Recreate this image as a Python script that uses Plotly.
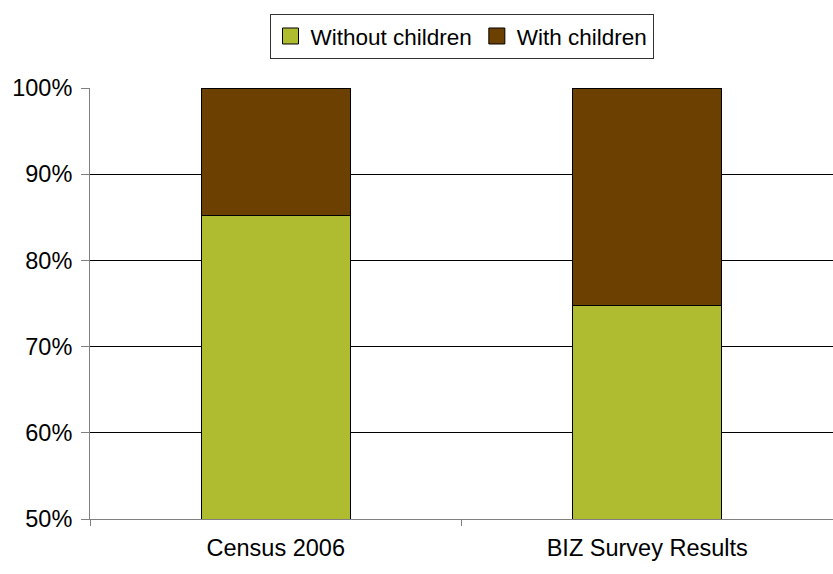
import plotly.graph_objects as go

categories = ["Census 2006", "BIZ Survey Results"]
without_children = [85.2, 74.8]
with_children = [14.8, 25.2]
y_ticks = [50, 60, 70, 80, 90, 100]
y_tick_labels = [f"{v}%" for v in y_ticks]

green = "#AFBC2F"
brown = "#6B4000"
series = [("Without children", without_children, green),
          ("With children", with_children, brown)]

font = dict(family="Liberation Sans, Arial, sans-serif", size=23.5, color="#000000")
legend_font = dict(family="Liberation Sans, Arial, sans-serif", size=22.5, color="#000000")

fig = go.Figure()
for name, values, color in series:
    fig.add_trace(go.Bar(
        x=categories, y=values, name=name, legendgroup=name, showlegend=False,
        marker=dict(color=color, line=dict(color="#000000", width=1)),
        width=0.4,
    ))
# square legend keys
for name, values, color in series:
    fig.add_trace(go.Scatter(
        x=[None], y=[None], mode="markers", name=name, legendgroup=name,
        marker=dict(symbol="square", size=16, color=color,
                    line=dict(color="#000000", width=1)),
    ))

fig.update_layout(
    barmode="stack",
    width=833, height=574,
    margin=dict(l=90, r=0, t=88, b=55),
    paper_bgcolor="white", plot_bgcolor="white",
    font=font,
    showlegend=True,
    legend=dict(
        orientation="h", x=0.5, xanchor="center", y=1.172, yanchor="top",
        bordercolor="#333333", borderwidth=1, bgcolor="white",
        font=legend_font, itemwidth=30, traceorder="normal",
        tracegroupgap=0, itemsizing="trace",
    ),
    xaxis=dict(
        type="category", tickson="boundaries", ticks="outside", ticklen=6,
        tickcolor="#808080", showline=True, linecolor="#808080", linewidth=1,
        showgrid=False, tickfont=font, ticklabelstandoff=8,
    ),
    yaxis=dict(
        range=[50, 100], tickvals=y_ticks, ticktext=y_tick_labels,
        ticks="outside", ticklen=8, tickcolor="#808080",
        showline=True, linecolor="#808080", linewidth=1,
        showgrid=True, gridcolor="#000000", gridwidth=1,
        tickfont=font, zeroline=False, ticklabelstandoff=4,
    ),
)

fig.write_html("out.html")
